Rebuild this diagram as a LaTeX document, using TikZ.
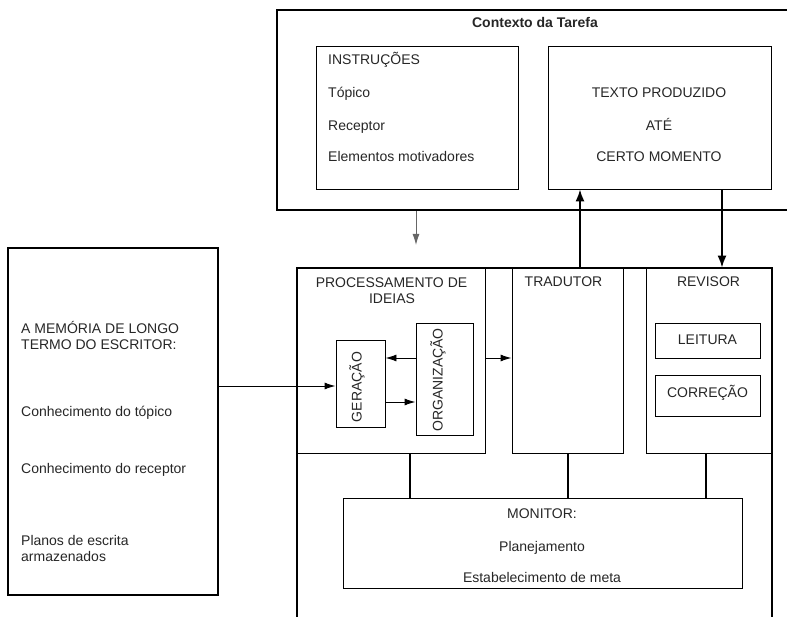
\documentclass[tikz,border=0pt]{standalone}
\usepackage{fontspec}
\setmainfont{Liberation Sans}
\usetikzlibrary{arrows.meta}
\tikzset{
  box/.style={draw, inner sep=0pt, line width=0.9pt},
  frame/.style={draw, inner sep=0pt, line width=2pt},
  txt/.style={anchor=base, inner sep=0pt, text=black!85, font=\fontsize{14}{16}\selectfont},
  ltxt/.style={txt, anchor=base west},
  arr/.style={-{Latex[length=11pt,width=7pt]}, line width=0.9pt},
  bigarr/.style={-{Latex[length=12pt,width=9pt]}, line width=1.6pt},
}
\begin{document}
\begin{tikzpicture}[x=1pt,y=-1pt]
  \clip (0,0) rectangle (787,617);
  % contexto da tarefa
  \node[frame, line width=2.7pt, minimum width=523pt, minimum height=200pt] (ctx) at (538.5,110) {};
  \node[txt, font=\fontsize{14}{16}\selectfont\bfseries] at (535,28) {Contexto da Tarefa};
  \node[box, minimum width=202pt, minimum height=143pt] (instr) at (417,117.5) {};
  \node[ltxt] at (328,65) {INSTRUÇÕES};
  \node[ltxt] at (328,98) {Tópico};
  \node[ltxt] at (328,131) {Receptor};
  \node[ltxt] at (328,162) {Elementos motivadores};
  \node[box, minimum width=223pt, minimum height=143pt] (texto) at (659.5,117.5) {};
  \node[txt] at (659,98) {TEXTO PRODUZIDO};
  \node[txt] at (659,131) {ATÉ};
  \node[txt] at (659,162) {CERTO MOMENTO};
  \coordinate (livre) at (416,245);
  % memoria
  \node[frame, line width=1.8pt, minimum width=210pt, minimum height=347pt] (mem) at (113,421.5) {};
  \node[ltxt] at (21,334) {A MEMÓRIA DE LONGO};
  \node[ltxt] at (21,350) {TERMO DO ESCRITOR:};
  \node[ltxt] at (21,416) {Conhecimento do tópico};
  \node[ltxt] at (21,473) {Conhecimento do receptor};
  \node[ltxt] at (21,545) {Planos de escrita};
  \node[ltxt] at (21,561) {armazenados};
  % processos
  \node[frame, minimum width=475pt, minimum height=372pt] (proc) at (534.5,454) {};
  \node[box, minimum width=188pt, minimum height=185pt] (ideias) at (391,360.5) {};
  \node[txt] at (391.5,288) {PROCESSAMENTO DE};
  \node[txt] at (392,304) {IDEIAS};
  \node[box, minimum width=49pt, minimum height=87pt] (ger) at (360.5,383.5) {};
  \node[txt, anchor=center, rotate=90] at (357,387) {GERAÇÃO};
  \node[box, minimum width=57pt, minimum height=112pt] (org) at (444.5,379) {};
  \node[txt, anchor=center, rotate=90] at (438,380) {ORGANIZAÇÃO};
  \node[box, minimum width=111pt, minimum height=185pt] (trad) at (567.5,360.5) {};
  \node[txt] at (563.5,287) {TRADUTOR};
  \node[box, minimum width=125pt, minimum height=185pt] (rev) at (708.5,360.5) {};
  \node[txt] at (708.5,287) {REVISOR};
  \node[box, minimum width=105pt, minimum height=35pt] (leit) at (707.5,340.5) {};
  \node[txt] at (707.5,345) {LEITURA};
  \node[box, minimum width=105pt, minimum height=41pt] (corr) at (707.5,395.5) {};
  \node[txt] at (707.5,397) {CORREÇÃO};
  \node[box, minimum width=399pt, minimum height=90pt] (mon) at (542.5,543) {};
  \node[txt] at (542,518) {MONITOR:};
  \node[txt] at (542,551) {Planejamento};
  \node[txt] at (542,582) {Estabelecimento de meta};
  % ligacoes
  \draw[arr, black!60] (ctx.south -| livre) -- (livre);
  \draw[bigarr] (proc.north -| 580,0) -- (texto.south -| 580,0);
  \draw[bigarr] (texto.south -| 722,0) -- (rev.north -| 722,0);
  \draw[arr] (mem.east |- 0,386) -- (ger.west |- 0,386);
  \draw[arr] (org.west |- 0,358) -- (ger.east |- 0,358);
  \draw[arr] (ger.east |- 0,402) -- (org.west |- 0,402);
  \draw[arr] (ideias.east |- 0,358) -- (trad.west |- 0,358);
  \draw[line width=1.2pt] (ideias.south -| 410,0) -- (mon.north -| 410,0);
  \draw[line width=1.2pt] (trad.south -| 568,0) -- (mon.north -| 568,0);
  \draw[line width=1.2pt] (rev.south -| 706,0) -- (mon.north -| 706,0);
\end{tikzpicture}
\end{document}
